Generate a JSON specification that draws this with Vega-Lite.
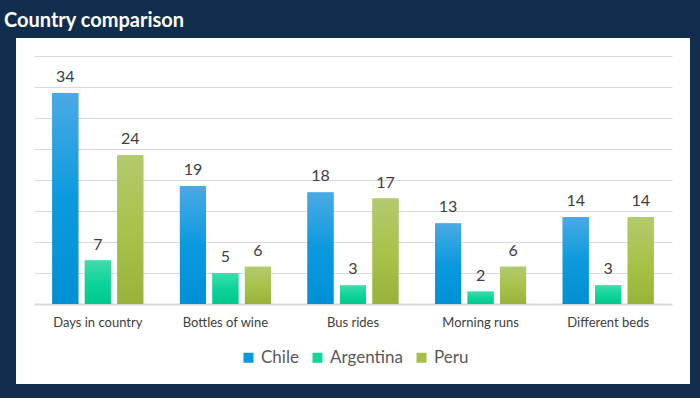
{
  "$schema": "https://vega.github.io/schema/vega-lite/v6.json",
  "autosize": {"type": "none"},
  "width": 674,
  "height": 346,
  "padding": {"left": 16, "top": 38, "right": 10, "bottom": 14},
  "background": "#112d4e",
  "title": {
    "text": "Country comparison",
    "anchor": "start",
    "color": "white",
    "font": "Lato",
    "fontSize": 20,
    "fontWeight": "bold",
    "baseline": "alphabetic",
    "dx": -12,
    "dy": 21,
    "offset": 12
  },
  "config": {
    "view": {"fill": "white", "stroke": null},
    "font": "Lato"
  },
  "data": {
    "values": [
      {"category": "Days in country", "country": "Chile", "value": 34},
      {"category": "Days in country", "country": "Argentina", "value": 7},
      {"category": "Days in country", "country": "Peru", "value": 24},
      {"category": "Bottles of wine", "country": "Chile", "value": 19},
      {"category": "Bottles of wine", "country": "Argentina", "value": 5},
      {"category": "Bottles of wine", "country": "Peru", "value": 6},
      {"category": "Bus rides", "country": "Chile", "value": 18},
      {"category": "Bus rides", "country": "Argentina", "value": 3},
      {"category": "Bus rides", "country": "Peru", "value": 17},
      {"category": "Morning runs", "country": "Chile", "value": 13},
      {"category": "Morning runs", "country": "Argentina", "value": 2},
      {"category": "Morning runs", "country": "Peru", "value": 6},
      {"category": "Different beds", "country": "Chile", "value": 14},
      {"category": "Different beds", "country": "Argentina", "value": 3},
      {"category": "Different beds", "country": "Peru", "value": 14}
    ]
  },
  "encoding": {
    "x": {
      "field": "category",
      "type": "nominal",
      "sort": null,
      "scale": {"range": [18, 656], "paddingInner": 0.287, "paddingOuter": 0.1435},
      "axis": {
        "title": null,
        "labelAngle": 0,
        "labelFont": "Lato",
        "labelFontSize": 13,
        "labelColor": "#404040",
        "labelPadding": 12,
        "ticks": false,
        "domainColor": "#d9d9d9",
        "domainWidth": 2,
        "offset": -80
      }
    },
    "xOffset": {
      "field": "country",
      "type": "nominal",
      "sort": ["Chile", "Argentina", "Peru"],
      "scale": {"paddingInner": 0.2, "paddingOuter": 0}
    },
    "y": {
      "field": "value",
      "type": "quantitative",
      "scale": {"domain": [0, 40], "range": [266, 18], "nice": false},
      "axis": {
        "title": null,
        "labels": false,
        "ticks": false,
        "domain": false,
        "values": [5, 10, 15, 20, 25, 30, 35, 40],
        "gridColor": "#d9d9d9",
        "gridWidth": 1
      }
    }
  },
  "layer": [
    {
      "mark": {"type": "bar"},
      "encoding": {
        "color": {
          "field": "country",
          "type": "nominal",
          "sort": ["Chile", "Argentina", "Peru"],
          "scale": {"domain": ["Chile", "Argentina", "Peru"], "range": ["#0b97dd", "#16d49c", "#a5bf4a"]},
          "legend": {
            "title": null,
            "orient": "none",
            "direction": "horizontal",
            "legendX": 224,
            "legendY": 311,
            "symbolType": "square",
            "symbolSize": 100,
            "symbolStrokeWidth": 0,
            "labelFont": "Lato",
            "labelFontSize": 17,
            "labelColor": "#595959",
            "labelOffset": 4,
            "columnPadding": 10,
            "padding": 0
          }
        }
      }
    },
    {
      "mark": {"type": "bar"},
      "encoding": {
        "fill": {
          "condition": [
            {
              "test": "datum.country === 'Chile'",
              "value": {"gradient": "linear", "x1": 0, "y1": 0, "x2": 0, "y2": 1,
                "stops": [{"offset": 0, "color": "#4aaae3"}, {"offset": 0.5, "color": "#0b9ade"}, {"offset": 1, "color": "#0090d3"}]}
            },
            {
              "test": "datum.country === 'Argentina'",
              "value": {"gradient": "linear", "x1": 0, "y1": 0, "x2": 0, "y2": 1,
                "stops": [{"offset": 0, "color": "#40dcaa"}, {"offset": 0.5, "color": "#0ed49b"}, {"offset": 1, "color": "#00c98d"}]}
            }
          ],
          "value": {"gradient": "linear", "x1": 0, "y1": 0, "x2": 0, "y2": 1,
            "stops": [{"offset": 0, "color": "#b3ca6e"}, {"offset": 0.5, "color": "#a8c24a"}, {"offset": 1, "color": "#98b33a"}]}
        }
      }
    },
    {
      "mark": {"type": "text", "baseline": "bottom", "dy": -8, "fontSize": 16, "font": "Lato", "color": "#404040"},
      "encoding": {
        "text": {"field": "value", "type": "quantitative"}
      }
    }
  ]
}
